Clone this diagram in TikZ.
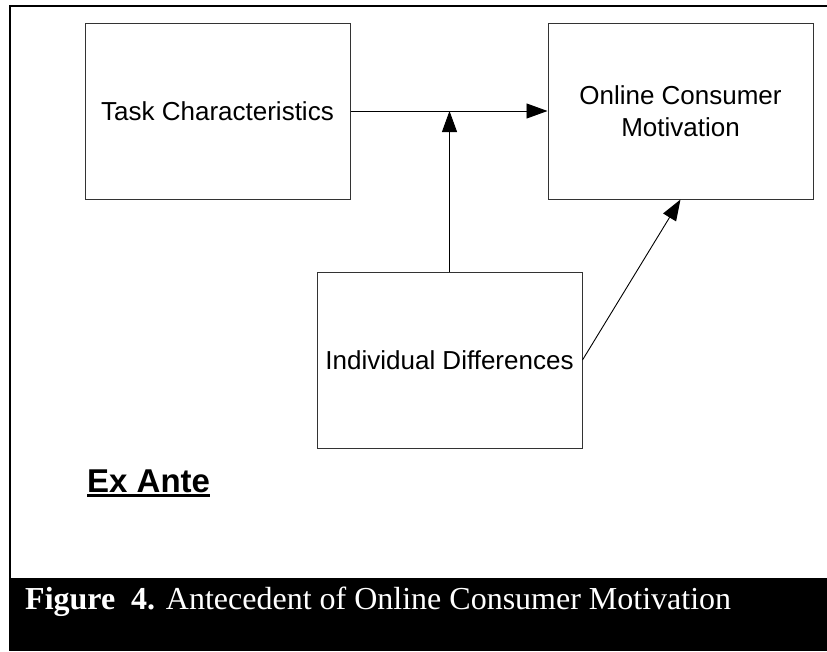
\documentclass[tikz,border=0pt]{standalone}
\usepackage{fontspec}
\setmainfont{Liberation Sans}
\newfontfamily\capfont{Liberation Serif}
\usetikzlibrary{arrows.meta,calc}

\tikzset{
  conceptbox/.style={draw=black!80, line width=1pt, minimum width=265pt,
    minimum height=176pt, inner sep=0pt, align=center,
    font=\fontsize{26}{32}\selectfont},
  link/.style={draw=black, line width=0.9pt,
    -{Triangle[length=21pt,width=15pt]}},
  frameline/.style={draw=black, line width=2pt}
}

\begin{document}
\begin{tikzpicture}[x=1pt,y=-1pt]
  \useasboundingbox (0,0) rectangle (827,651);

  % outer frame (top and left edges) and caption band
  \draw[frameline] (827,5.5) -- (10,5.5) -- (10,579);
  \fill[black] (9,578) rectangle (827,651);

  % concept boxes
  \node[conceptbox] (task)  at (217.5,111) {Task Characteristics};
  \node[conceptbox] (motiv) at (680.5,111) {Online Consumer\\Motivation};
  \node[conceptbox] (indiv) at (449.5,360) {Individual Differences};

  % relationships
  \draw[link] (task.east) -- (motiv.west);
  \draw[link] (indiv.north) -- (indiv.north |- task.east);
  \draw[link] (indiv.east) -- (motiv.south);

  % phase label
  \node[anchor=base west, inner sep=0pt,
        font=\bfseries\fontsize{33}{38}\selectfont] (exante) at (87,492) {Ex Ante};
  \draw[line width=3.5pt] ($(exante.base west)+(0,3.5)$) -- ($(exante.base east)+(0,3.5)$);

  % figure caption
  \node[anchor=base west, inner sep=0pt, text=white,
        font=\capfont\fontsize{32}{37}\selectfont] (caption) at (25,609)
        {\textbf{Figure\ \ 4.} Antecedent of Online Consumer Motivation};
\end{tikzpicture}
\end{document}
